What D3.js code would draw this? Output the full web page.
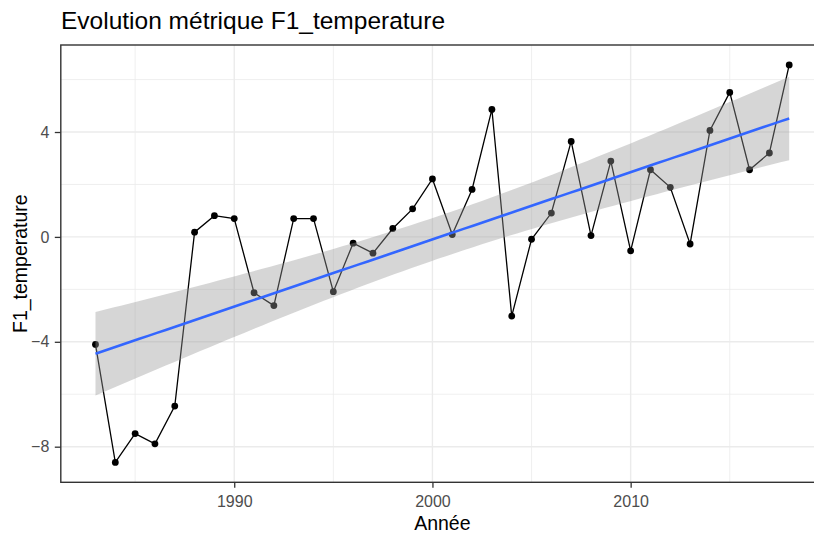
<!DOCTYPE html>
<html>
<head>
<meta charset="utf-8">
<script src="https://cdn.jsdelivr.net/npm/d3@7"></script>
<style>
  html, body { margin: 0; padding: 0; background: #ffffff; }
  svg { display: block; font-family: "Liberation Sans", Arial, sans-serif; }
</style>
</head>
<body>
<div id="chart"></div>
<script>
// ---- data ----
const years = [1983, 1984, 1985, 1986, 1987, 1988, 1989, 1990, 1991, 1992, 1993, 1994,
               1995, 1996, 1997, 1998, 1999, 2000, 2001, 2002, 2003, 2004, 2005, 2006,
               2007, 2008, 2009, 2010, 2011, 2012, 2013, 2014, 2015, 2016, 2017, 2018];
const values = [-4.10, -8.60, -7.50, -7.89, -6.45, 0.18, 0.81, 0.70, -2.13, -2.62, 0.70, 0.70,
                -2.09, -0.24, -0.62, 0.32, 1.07, 2.21, 0.09, 1.81, 4.86, -3.02, -0.09, 0.91,
                3.64, 0.05, 2.89, -0.53, 2.56, 1.89, -0.27, 4.06, 5.51, 2.56, 3.20, 6.56];
const xTickMajor = [1990, 2000, 2010];
const xTickMinor = [1985, 1995, 2005, 2015];
const yTickMajor = [-8, -4, 0, 4];
const yTickMinor = [-6, -2, 2, 6];
const titleText = "Evolution métrique F1_temperature";
const xTitle = "Année";
const yTitle = "F1_temperature";
const tQuantile = 2.0322; // qt(0.975, df = 34)

// ---- layout ----
const W = 814, H = 538;
const panel = { left: 60.8, right: 823.9, top: 45, bottom: 482.3 };

const svg = d3.select("#chart").append("svg")
  .attr("width", W).attr("height", H);

const data = years.map((y, i) => ({ x: y, y: values[i] }));

// ggplot-like expansion (5%)
const xr = d3.extent(years), yr = d3.extent(values);
const xPad = (xr[1] - xr[0]) * 0.05, yPad = (yr[1] - yr[0]) * 0.05;
const x = d3.scaleLinear().domain([xr[0] - xPad, xr[1] + xPad]).range([panel.left, panel.right]);
const y = d3.scaleLinear().domain([yr[0] - yPad, yr[1] + yPad]).range([panel.bottom, panel.top]);

// ---- linear model (geom_smooth method = "lm") ----
const n = data.length;
const mx = d3.mean(years), my = d3.mean(values);
const sxx = d3.sum(years, v => (v - mx) * (v - mx));
const sxy = d3.sum(data, d => (d.x - mx) * (d.y - my));
const slope = sxy / sxx, intercept = my - slope * mx;
const sse = d3.sum(data, d => Math.pow(d.y - (intercept + slope * d.x), 2));
const s = Math.sqrt(sse / (n - 2));
const fitX = d3.range(80).map(i => xr[0] + (xr[1] - xr[0]) * i / 79);
const fit = fitX.map(fx => {
  const yhat = intercept + slope * fx;
  const se = s * Math.sqrt(1 / n + (fx - mx) * (fx - mx) / sxx);
  return { x: fx, y: yhat, lo: yhat - tQuantile * se, hi: yhat + tQuantile * se };
});

// ---- panel background + grid ----
const g = svg.append("g");
g.append("rect")
  .attr("x", panel.left).attr("y", panel.top)
  .attr("width", panel.right - panel.left).attr("height", panel.bottom - panel.top)
  .attr("fill", "#ffffff");

const grid = g.append("g");
grid.selectAll(".ymin").data(yTickMinor).enter().append("line")
  .attr("x1", panel.left).attr("x2", panel.right)
  .attr("y1", d => y(d)).attr("y2", d => y(d))
  .attr("stroke", "#EBEBEB").attr("stroke-width", 0.8);
grid.selectAll(".xmin").data(xTickMinor).enter().append("line")
  .attr("y1", panel.top).attr("y2", panel.bottom)
  .attr("x1", d => x(d)).attr("x2", d => x(d))
  .attr("stroke", "#EBEBEB").attr("stroke-width", 0.8);
grid.selectAll(".ymaj").data(yTickMajor).enter().append("line")
  .attr("x1", panel.left).attr("x2", panel.right)
  .attr("y1", d => y(d)).attr("y2", d => y(d))
  .attr("stroke", "#EBEBEB").attr("stroke-width", 1.4);
grid.selectAll(".xmaj").data(xTickMajor).enter().append("line")
  .attr("y1", panel.top).attr("y2", panel.bottom)
  .attr("x1", d => x(d)).attr("x2", d => x(d))
  .attr("stroke", "#EBEBEB").attr("stroke-width", 1.4);

// ---- data line + points ----
g.append("path").datum(data)
  .attr("fill", "none").attr("stroke", "#000000").attr("stroke-width", 1.3)
  .attr("d", d3.line().x(d => x(d.x)).y(d => y(d.y)));
g.selectAll(".pt").data(data).enter().append("circle")
  .attr("cx", d => x(d.x)).attr("cy", d => y(d.y)).attr("r", 3.4)
  .attr("fill", "#000000");

// ---- smooth ribbon + fit ----
g.append("path").datum(fit)
  .attr("fill", "#999999").attr("fill-opacity", 0.4)
  .attr("d", d3.area().x(d => x(d.x)).y0(d => y(d.lo)).y1(d => y(d.hi)));
g.append("path").datum(fit)
  .attr("fill", "none").attr("stroke", "#3366FF").attr("stroke-width", 2.6)
  .attr("d", d3.line().x(d => x(d.x)).y(d => y(d.y)));

// ---- panel border ----
g.append("rect")
  .attr("x", panel.left).attr("y", panel.top)
  .attr("width", panel.right - panel.left).attr("height", panel.bottom - panel.top)
  .attr("fill", "none").attr("stroke", "#333333").attr("stroke-width", 1.4);

// ---- axes ----
const xAxis = d3.axisBottom(x).tickValues(xTickMajor).tickFormat(d3.format("d"))
  .tickSize(5.5).tickPadding(7.5);
const xg = svg.append("g").attr("transform", `translate(0,${panel.bottom})`).call(xAxis);
xg.select(".domain").remove();
xg.selectAll(".tick line").attr("stroke", "#333333").attr("stroke-width", 1.3);
xg.selectAll(".tick text").attr("fill", "#4D4D4D").style("font-size", "16px")
  .style("font-family", "'Liberation Sans', Arial, sans-serif");

const yAxis = d3.axisLeft(y).tickValues(yTickMajor).tickFormat(d3.format("d"))
  .tickSize(6).tickPadding(5.5);
const yg = svg.append("g").attr("transform", `translate(${panel.left},0)`).call(yAxis);
yg.select(".domain").remove();
yg.selectAll(".tick line").attr("stroke", "#333333").attr("stroke-width", 1.3);
yg.selectAll(".tick text").attr("fill", "#4D4D4D").style("font-size", "16px")
  .style("font-family", "'Liberation Sans', Arial, sans-serif");

// ---- titles ----
svg.append("text")
  .attr("x", 61).attr("y", 29.3)
  .attr("fill", "#000000").style("font-size", "24.5px")
  .text(titleText);
svg.append("text")
  .attr("x", (panel.left + panel.right) / 2).attr("y", 530)
  .attr("text-anchor", "middle")
  .attr("fill", "#000000").style("font-size", "19.5px")
  .text(xTitle);
svg.append("text")
  .attr("transform", `translate(26.5,${(panel.top + panel.bottom) / 2}) rotate(-90)`)
  .attr("text-anchor", "middle")
  .attr("fill", "#000000").style("font-size", "19.5px")
  .text(yTitle);
</script>
</body>
</html>
